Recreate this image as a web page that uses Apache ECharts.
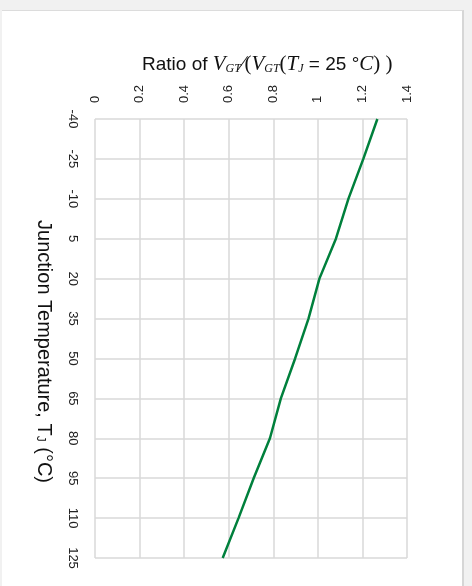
<!DOCTYPE html>
<html>
<head>
<meta charset="utf-8">
<script src="https://cdn.jsdelivr.net/npm/echarts@6/dist/echarts.min.js"></script>
<style>
  html, body { margin: 0; padding: 0; background: #f1f1f1; width: 472px; height: 586px; overflow: hidden; }
  #card { position: absolute; left: 2px; top: 10px; width: 460px; height: 576px; background: #fff; border-top: 1px solid #dcdcdc; border-right: 2px solid #d6d6d6; }
  #chart { position: absolute; left: 0; top: 0; width: 472px; height: 586px; }
</style>
</head>
<body>
<div id="card"></div>
<div id="chart"></div>
<script>
// Junction temperature categories (°C)
const temperatures = ['-40', '-25', '-10', '5', '20', '35', '50', '65', '80', '95', '110', '125'];
// Ratio V_GT / V_GT(Tj = 25 °C)
const ratioValues = [1.267, 1.204, 1.137, 1.081, 1.007, 0.958, 0.898, 0.834, 0.785, 0.712, 0.644, 0.573];
// Ratio axis range / ticks
const ratioMin = 0, ratioMax = 1.4, ratioStep = 0.2;

const chart = echarts.init(document.getElementById('chart'), null, { renderer: 'canvas' });
const gridColor = '#d9d9d9';
const labelColor = '#222';
const sans = 'Liberation Sans, Arial, sans-serif';
const serif = 'Liberation Serif, Times New Roman, serif';

chart.setOption({
  backgroundColor: 'transparent',
  animation: false,
  title: {
    text: '{n|Ratio of }{i|V}{s|GT}{i|∕}{r|(}{i|V}{s|GT}{r|(}{i|T}{s|J}{m| = 25 °}{i|C}{r|)}{r| )}',
    left: 137,
    top: 49,
    textStyle: {
      fontWeight: 'normal',
      rich: {
        n: { fontFamily: sans, fontSize: 19, fontWeight: 'normal', color: '#111' },
        i: { fontFamily: serif, fontStyle: 'italic', fontWeight: 'normal', fontSize: 21, color: '#111' },
        r: { fontFamily: serif, fontWeight: 'normal', fontSize: 21, color: '#111' },
        m: { fontFamily: sans, fontWeight: 'normal', fontSize: 19, color: '#111' },
        s: { fontFamily: serif, fontStyle: 'italic', fontWeight: 'normal', fontSize: 12, color: '#111', verticalAlign: 'bottom', padding: [9, 0, 0, 0] }
      }
    }
  },
  grid: { left: 95, top: 119, right: 65, bottom: 28 },
  xAxis: {
    type: 'value',
    position: 'top',
    min: ratioMin,
    max: ratioMax,
    interval: ratioStep,
    axisLine: { show: false },
    axisTick: { show: false },
    splitLine: { show: true, lineStyle: { color: gridColor, width: 1.5 } },
    axisLabel: {
      rotate: -90,
      align: 'left',
      verticalAlign: 'middle',
      margin: 16,
      fontSize: 13,
      fontFamily: sans,
      color: labelColor,
      formatter: v => String(Math.round(v * 10) / 10)
    }
  },
  yAxis: {
    type: 'category',
    data: temperatures,
    inverse: true,
    boundaryGap: false,
    axisLine: { show: false },
    axisTick: { show: false },
    splitLine: { show: true, interval: 0, lineStyle: { color: gridColor, width: 1.5 } },
    axisLabel: {
      interval: 0,
      rotate: -90,
      align: 'center',
      verticalAlign: 'top',
      margin: 16,
      fontSize: 13,
      fontFamily: sans,
      color: labelColor
    },
    name: '{n|Junction Temperature, T}{s|J}{n| (°C)}',
    nameLocation: 'middle',
    nameRotate: -90,
    nameGap: 41,
    nameTextStyle: {
      padding: [0, 0, 0, 26],
      rich: {
        n: { fontFamily: sans, fontSize: 20, color: '#111' },
        s: { fontFamily: sans, fontSize: 12, color: '#111', verticalAlign: 'bottom', padding: [8, 0, 0, 0] }
      }
    }
  },
  series: [{
    type: 'line',
    data: ratioValues,
    showSymbol: false,
    symbol: 'none',
    smooth: false,
    lineStyle: { color: '#00803c', width: 2.5 },
    itemStyle: { color: '#00803c' }
  }]
});
</script>
</body>
</html>
